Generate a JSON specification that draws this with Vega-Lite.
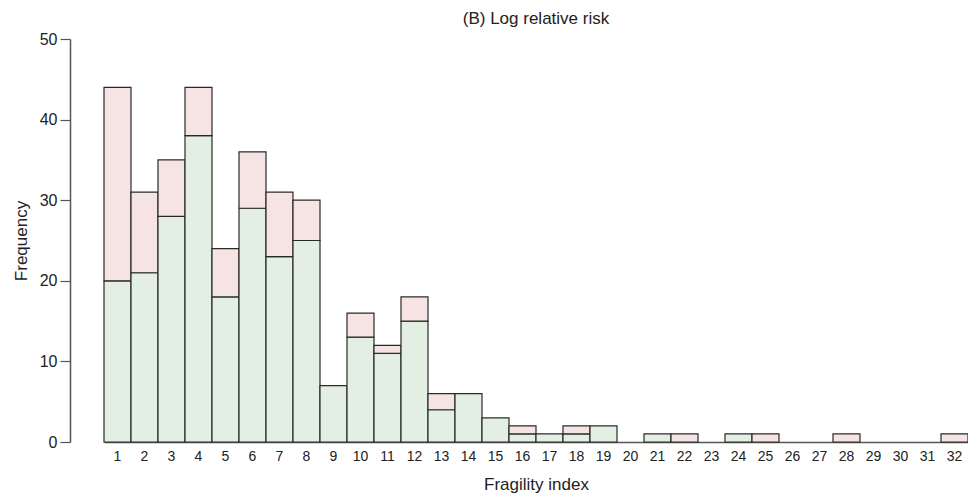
{
  "$schema": "https://vega.github.io/schema/vega-lite/v6.json",
  "autosize": "none",
  "padding": {"left": 104, "top": 39, "right": 0, "bottom": 53},
  "width": 864,
  "height": 403,
  "background": "white",
  "config": {
    "view": {"stroke": null},
    "font": "Liberation Sans"
  },
  "title": {
    "text": "(B) Log relative risk",
    "fontSize": 17,
    "fontWeight": "normal",
    "color": "#222",
    "anchor": "middle",
    "offset": 3
  },
  "data": {
    "values": [
      {"fi": 1, "group": "Lower", "count": 20}, {"fi": 1, "group": "Upper", "count": 24},
      {"fi": 2, "group": "Lower", "count": 21}, {"fi": 2, "group": "Upper", "count": 10},
      {"fi": 3, "group": "Lower", "count": 28}, {"fi": 3, "group": "Upper", "count": 7},
      {"fi": 4, "group": "Lower", "count": 38}, {"fi": 4, "group": "Upper", "count": 6},
      {"fi": 5, "group": "Lower", "count": 18}, {"fi": 5, "group": "Upper", "count": 6},
      {"fi": 6, "group": "Lower", "count": 29}, {"fi": 6, "group": "Upper", "count": 7},
      {"fi": 7, "group": "Lower", "count": 23}, {"fi": 7, "group": "Upper", "count": 8},
      {"fi": 8, "group": "Lower", "count": 25}, {"fi": 8, "group": "Upper", "count": 5},
      {"fi": 9, "group": "Lower", "count": 7},
      {"fi": 10, "group": "Lower", "count": 13}, {"fi": 10, "group": "Upper", "count": 3},
      {"fi": 11, "group": "Lower", "count": 11}, {"fi": 11, "group": "Upper", "count": 1},
      {"fi": 12, "group": "Lower", "count": 15}, {"fi": 12, "group": "Upper", "count": 3},
      {"fi": 13, "group": "Lower", "count": 4}, {"fi": 13, "group": "Upper", "count": 2},
      {"fi": 14, "group": "Lower", "count": 6},
      {"fi": 15, "group": "Lower", "count": 3},
      {"fi": 16, "group": "Lower", "count": 1}, {"fi": 16, "group": "Upper", "count": 1},
      {"fi": 17, "group": "Lower", "count": 1},
      {"fi": 18, "group": "Lower", "count": 1}, {"fi": 18, "group": "Upper", "count": 1},
      {"fi": 19, "group": "Lower", "count": 2},
      {"fi": 21, "group": "Lower", "count": 1},
      {"fi": 22, "group": "Upper", "count": 1},
      {"fi": 24, "group": "Lower", "count": 1},
      {"fi": 25, "group": "Upper", "count": 1},
      {"fi": 28, "group": "Upper", "count": 1},
      {"fi": 32, "group": "Upper", "count": 1}
    ]
  },
  "mark": {"type": "bar", "stroke": "#2a2a2a", "strokeWidth": 1.2},
  "encoding": {
    "x": {
      "field": "fi",
      "type": "ordinal",
      "scale": {
        "domain": [1,2,3,4,5,6,7,8,9,10,11,12,13,14,15,16,17,18,19,20,21,22,23,24,25,26,27,28,29,30,31,32],
        "paddingInner": 0,
        "paddingOuter": 0
      },
      "axis": {
        "title": "Fragility index",
        "titleFontSize": 17,
        "titleFontWeight": "normal",
        "titleColor": "#222",
        "titlePadding": 13,
        "labelAngle": 0,
        "labelFontSize": 14,
        "labelColor": "#222",
        "labelPadding": 7,
        "ticks": false,
        "domainColor": "#555",
        "domainWidth": 1.5
      }
    },
    "y": {
      "field": "count",
      "type": "quantitative",
      "stack": "zero",
      "scale": {"domain": [0, 50], "nice": false},
      "axis": {
        "title": "Frequency",
        "titleFontSize": 17,
        "titleFontWeight": "normal",
        "titleColor": "#222",
        "titlePadding": 9,
        "values": [0, 10, 20, 30, 40, 50],
        "grid": false,
        "offset": 34,
        "tickSize": 10,
        "tickColor": "#555",
        "tickWidth": 1.2,
        "domainColor": "#555",
        "domainWidth": 1.5,
        "labelFontSize": 16,
        "labelColor": "#222",
        "labelPadding": 3
      }
    },
    "color": {
      "field": "group",
      "type": "nominal",
      "scale": {"domain": ["Lower", "Upper"], "range": ["#e2efe2", "#f6e3e3"]},
      "legend": null
    },
    "order": {"field": "group", "sort": "ascending"}
  }
}
